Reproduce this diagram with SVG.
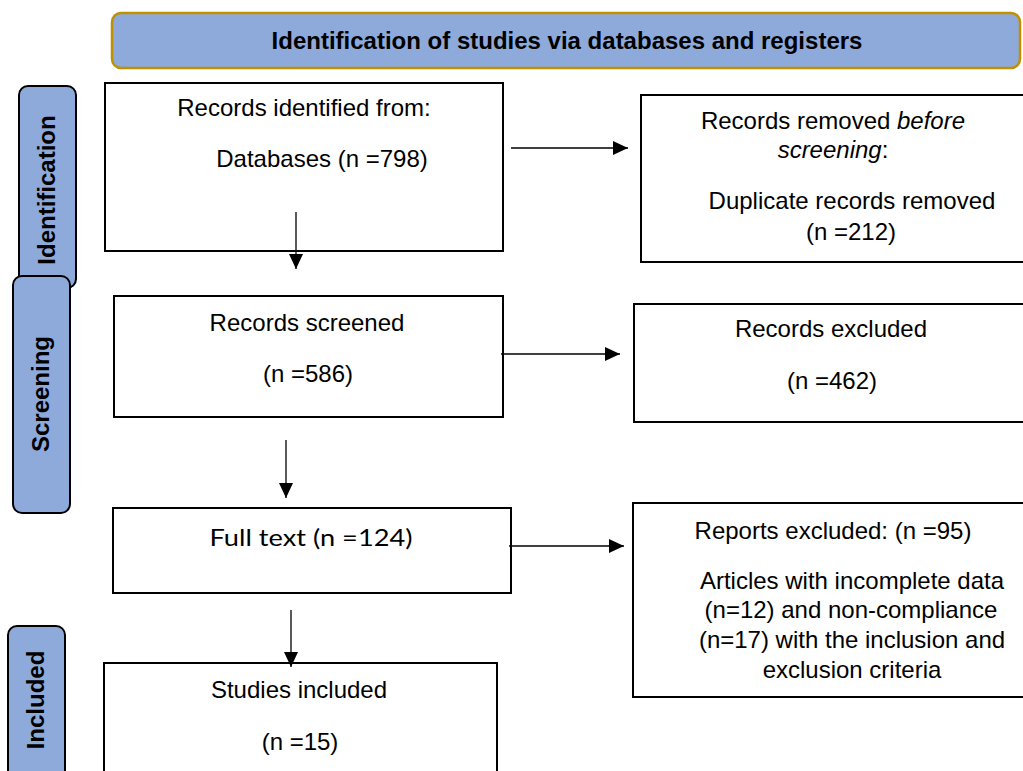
<svg xmlns="http://www.w3.org/2000/svg" width="1023" height="771" viewBox="0 0 1023 771">
<style>
.box{fill:#fff;stroke:#000;stroke-width:2}
.tab{fill:#8eaadb;stroke:#000;stroke-width:2}
.t{font-family:"Liberation Sans",Arial,sans-serif;font-size:24px;fill:#000;text-anchor:middle}
.b{font-weight:bold}
.g{font-family:Lato,"Open Sans",sans-serif;font-weight:normal}
.c{stroke:#000;stroke-width:1.3;fill:none;marker-end:url(#ah)}
</style>
<defs>
<marker id="ah" markerUnits="userSpaceOnUse" markerWidth="15" markerHeight="14" refX="15" refY="7" orient="auto">
<path d="M0,0 L15,7 L0,14 z" fill="#000"/>
</marker>
</defs>
<rect width="1023" height="771" fill="#fff"/>
<g id="header">
<rect x="112" y="13" width="908" height="55" rx="9" fill="#8eaadb" stroke="#bf9000" stroke-width="2.5"/>
<text class="t b" x="567" y="49">Identification of studies via databases and registers</text>
</g>
<g id="tab-identification">
<rect class="tab" x="19" y="86" width="57" height="202" rx="9"/>
<text class="t b" transform="translate(55,190) rotate(-90)">Identification</text>
</g>
<g id="tab-screening">
<rect class="tab" x="13" y="276" width="57" height="237" rx="9"/>
<text class="t b" transform="translate(49,394) rotate(-90)">Screening</text>
</g>
<g id="tab-included">
<rect class="tab" x="8" y="626" width="57" height="170" rx="9"/>
<text class="t b" transform="translate(44,700) rotate(-90)">Included</text>
</g>
<g id="records-identified">
<rect class="box" x="105" y="83" width="398" height="168"/>
<text class="t" x="304" y="116">Records identified from:</text>
<text class="t" x="322" y="167">Databases (n =798)</text>
</g>
<g id="records-removed">
<rect class="box" x="641" y="95" width="400" height="167"/>
<text class="t" x="833" y="129">Records removed <tspan font-style="italic">before</tspan></text>
<text class="t" x="833" y="158"><tspan font-style="italic">screening</tspan>:</text>
<text class="t" x="852" y="209">Duplicate records removed</text>
<text class="t" x="851" y="240">(n =212)</text>
</g>
<g id="records-screened">
<rect class="box" x="114" y="296" width="389" height="121"/>
<text class="t" x="307" y="331">Records screened</text>
<text class="t" x="308" y="382">(n =586)</text>
</g>
<g id="records-excluded">
<rect class="box" x="634" y="304" width="400" height="118"/>
<text class="t" x="831" y="337">Records excluded</text>
<text class="t" x="832" y="389">(n =462)</text>
</g>
<g id="full-text">
<rect class="box" x="113" y="508" width="398" height="85"/>
<text class="t g" x="311" y="546" textLength="203" lengthAdjust="spacingAndGlyphs">Full text (n =124)</text>
</g>
<g id="reports-excluded">
<rect class="box" x="633" y="503" width="400" height="194"/>
<text class="t" x="833" y="539">Reports excluded: (n =95)</text>
<text class="t" x="852" y="589">Articles with incomplete data</text>
<text class="t" x="851" y="618">(n=12) and non-compliance</text>
<text class="t" x="852" y="648">(n=17) with the inclusion and</text>
<text class="t" x="852" y="678">exclusion criteria</text>
</g>
<g id="studies-included">
<rect class="box" x="104" y="663" width="393" height="140"/>
<text class="t" x="299" y="698">Studies included</text>
<text class="t" x="300" y="750">(n =15)</text>
</g>
<g id="connectors">
<line class="c" x1="511" y1="148" x2="628" y2="148"/>
<line class="c" x1="296" y1="212" x2="296" y2="269"/>
<line class="c" x1="501" y1="354" x2="620" y2="354"/>
<line class="c" x1="286" y1="440" x2="286" y2="498"/>
<line class="c" x1="509" y1="546" x2="624" y2="546"/>
<line class="c" x1="291" y1="610" x2="291" y2="667"/>
</g>
</svg>
